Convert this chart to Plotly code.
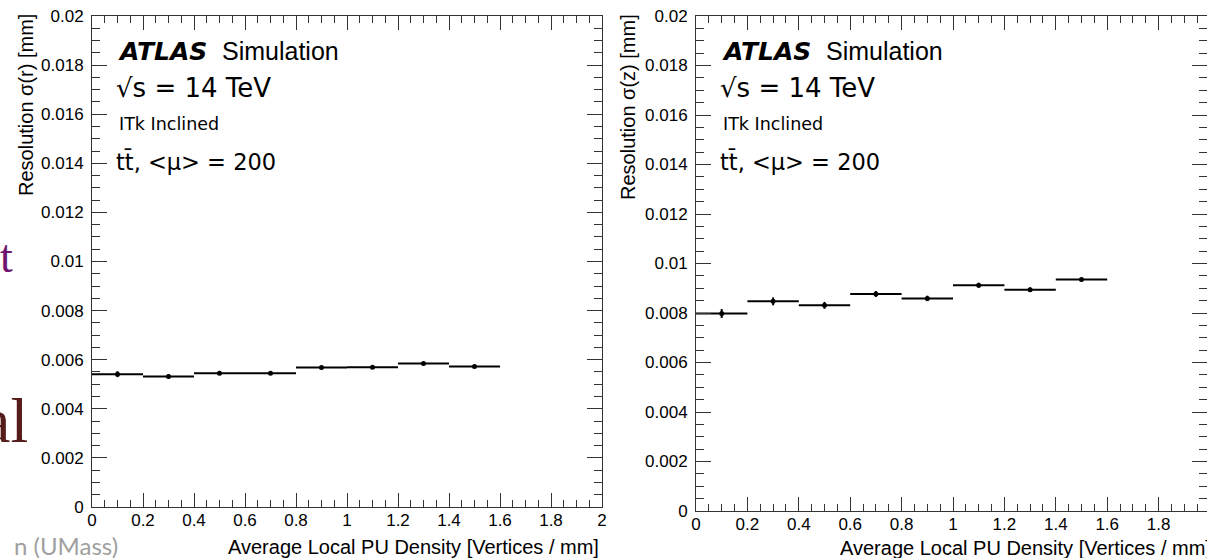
import plotly.graph_objects as go

# ---------------- data ----------------
bin_centers = [0.1, 0.3, 0.5, 0.7, 0.9, 1.1, 1.3, 1.5]
bin_half_width = [0.1, 0.1, 0.1, 0.1, 0.1, 0.1, 0.1, 0.1]
sigma_r = [0.00541, 0.00532, 0.00545, 0.00545, 0.00568, 0.00569, 0.00585, 0.00572]
sigma_r_err = [0.00012, 0.00010, 0.00008, 0.00007, 0.00007, 0.00006, 0.00005, 0.00005]
sigma_z = [0.00798, 0.00847, 0.00831, 0.00877, 0.00859, 0.00912, 0.00894, 0.00935]
sigma_z_err = [0.00018, 0.00016, 0.00014, 0.00012, 0.00011, 0.00010, 0.00009, 0.00007]

x_tickvals = [0, 0.2, 0.4, 0.6, 0.8, 1.0, 1.2, 1.4, 1.6, 1.8, 2.0]
x_ticktext = ["0", "0.2", "0.4", "0.6", "0.8", "1", "1.2", "1.4", "1.6", "1.8", "2"]
y_tickvals = [0, 0.002, 0.004, 0.006, 0.008, 0.010, 0.012, 0.014, 0.016, 0.018, 0.020]
y_ticktext = ["0", "0.002", "0.004", "0.006", "0.008", "0.01", "0.012", "0.014", "0.016", "0.018", "0.02"]

x_title = "Average Local PU Density [Vertices / mm]"
y_title_r = "Resolution σ(r) [mm]"
y_title_z = "Resolution σ(z) [mm]"

W, H = 1207, 558


def px(x):
    return x / W


def py(y):
    return 1 - y / H


fig = go.Figure()

for sig, err, xa, ya in [(sigma_r, sigma_r_err, "x", "y"), (sigma_z, sigma_z_err, "x2", "y2")]:
    fig.add_trace(go.Scatter(
        x=bin_centers, y=sig, mode="markers", xaxis=xa, yaxis=ya,
        marker=dict(color="black", size=5),
        error_x=dict(type="data", array=bin_half_width, symmetric=True,
                     width=0, thickness=2, color="black"),
        error_y=dict(type="data", array=err, symmetric=True,
                     width=0, thickness=2, color="black"),
        showlegend=False, hoverinfo="skip",
    ))

tickfont = dict(family="Liberation Sans, Arial, sans-serif", size=17, color="black")
line_col = "#333333"


def xaxis_cfg(domain, rng, anchor):
    return dict(domain=domain, range=rng, anchor=anchor, automargin=False,
                showline=True, linecolor=line_col, linewidth=1, mirror="ticks",
                ticks="inside", ticklen=14, tickcolor=line_col, tickwidth=1,
                ticklabelstandoff=-2,
                tickvals=x_tickvals, ticktext=x_ticktext, tickfont=tickfont,
                minor=dict(ticks="inside", ticklen=7, dtick=0.05, tick0=0,
                           tickcolor=line_col, tickwidth=1, showgrid=False),
                showgrid=False, zeroline=False, fixedrange=True)


def yaxis_cfg(domain, anchor):
    return dict(domain=domain, range=[0, 0.02], anchor=anchor, automargin=False,
                showline=True, linecolor=line_col, linewidth=1, mirror="ticks",
                ticks="inside", ticklen=15, tickcolor=line_col, tickwidth=1,
                ticklabelstandoff=4,
                tickvals=y_tickvals, ticktext=y_ticktext, tickfont=tickfont,
                minor=dict(ticks="inside", ticklen=8, dtick=0.0005, tick0=0,
                           tickcolor=line_col, tickwidth=1, showgrid=False),
                showgrid=False, zeroline=False, fixedrange=True)


left_x0, left_x1 = 92, 602
right_x0 = 696
right_scale = 257.0  # px per unit on right panel

fig.update_layout(
    template="none",
    width=W, height=H,
    margin=dict(l=0, r=0, t=0, b=0, pad=0, autoexpand=False),
    paper_bgcolor="white", plot_bgcolor="white",
    xaxis=xaxis_cfg([px(left_x0), px(left_x1)], [0, 2], "y"),
    yaxis=yaxis_cfg([py(507), py(16)], "x"),
    xaxis2=xaxis_cfg([px(right_x0), 1.0], [0, (W - right_x0) / right_scale], "y2"),
    yaxis2=yaxis_cfg([py(511), py(16)], "x2"),
)

ann = []
sans = "Liberation Sans, Arial, sans-serif"
dv = "DejaVu Sans, sans-serif"

for x0, ytitle, xt_y, xt_right, yt_x in [
    (left_x0, y_title_r, 547, 601, 26),
    (right_x0, y_title_z, 547.5, 1213, 628),
]:
    tx = x0 + 24
    ann += [
        dict(text="<b><i>ATLAS</i></b>", x=px(tx), y=py(51.5), xanchor="left", yanchor="middle",
             font=dict(family=dv, size=25, color="black")),
        dict(text="Simulation", x=px(tx + 104), y=py(51.5), xanchor="left", yanchor="middle",
             font=dict(family=sans, size=25, color="black")),
        dict(text="√s = 14 TeV", x=px(tx - 2), y=py(88.5), xanchor="left", yanchor="middle",
             font=dict(family=dv, size=26, color="black")),
        dict(text="ITk Inclined", x=px(tx + 1), y=py(124), xanchor="left", yanchor="middle",
             font=dict(family=dv, size=17.5, color="black")),
        dict(text="tt\u0304, &lt;μ&gt; = 200", x=px(tx - 2), y=py(161), xanchor="left", yanchor="middle",
             font=dict(family=dv, size=22.5, color="black")),
        dict(text=x_title, x=px(xt_right), y=py(xt_y), xanchor="right", yanchor="middle",
             font=dict(family=sans, size=20, color="black")),
        dict(text=ytitle, x=px(yt_x), y=py(12), xanchor="center", yanchor="top", textangle=-90,
             font=dict(family=sans, size=20, color="black")),
    ]

# slide fragments around the embedded plot
ann += [
    dict(text="t", x=px(15), y=py(256), xanchor="right", yanchor="middle",
         font=dict(family="Liberation Serif, serif", size=46, color="#6e1570")),
    dict(text="al", x=px(30), y=py(420), xanchor="right", yanchor="middle",
         font=dict(family="Liberation Serif, serif", size=64, color="#561b1b")),
    dict(text="n (UMass)", x=px(120), y=py(545), xanchor="right", yanchor="middle",
         font=dict(family="Lato, Open Sans, sans-serif", size=24, color="#a0a0a0")),
]

for a in ann:
    a.update(xref="paper", yref="paper", showarrow=False)
fig.update_layout(annotations=ann)

fig.write_html("out.html")
